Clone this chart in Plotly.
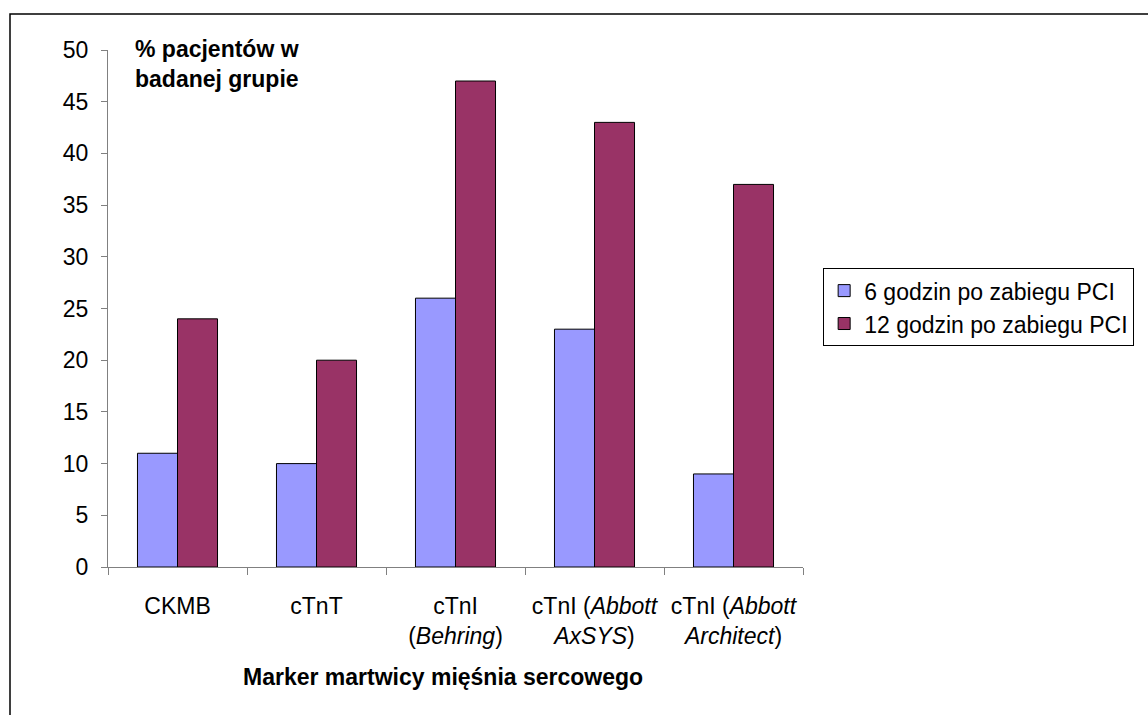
import plotly.graph_objects as go

categories = ["CKMB", "cTnT", "cTnI<br>(<i>Behring</i>)",
              "cTnI (<i>Abbott</i><br><i>AxSYS</i>)",
              "cTnI (<i>Abbott</i><br><i>Architect</i>)"]
series_6h = [11, 10, 26, 23, 9]
series_12h = [24, 20, 47, 43, 37]
name_6h = "6 godzin po zabiegu PCI"
name_12h = "12 godzin po zabiegu PCI"
y_ticks = [0, 5, 10, 15, 20, 25, 30, 35, 40, 45, 50]

FONT = "Liberation Sans, Arial, sans-serif"
FS = 23

fig = go.Figure()
fig.add_trace(go.Bar(x=categories, y=series_6h, name=name_6h,
                     marker=dict(color="#9999FF", line=dict(color="#000000", width=1))))
fig.add_trace(go.Bar(x=categories, y=series_12h, name=name_12h,
                     marker=dict(color="#993366", line=dict(color="#000000", width=1))))

fig.update_layout(
    width=1148, height=715,
    margin=dict(l=108, r=345, t=50, b=148),
    paper_bgcolor="white", plot_bgcolor="white",
    font=dict(family=FONT, size=FS, color="black"),
    barmode="group", bargap=0.424, bargroupgap=0,
    showlegend=True,
    legend=dict(x=1.029, y=0.578, xanchor="left", yanchor="top",
                bordercolor="#000000", borderwidth=1,
                font=dict(family=FONT, size=FS, color="black"),
                itemwidth=30, tracegroupgap=4),
)
fig.update_xaxes(
    type="category", showline=True, linecolor="#808080", linewidth=1,
    ticks="outside", tickson="boundaries", ticklen=7, tickcolor="#808080",
    showgrid=False, tickfont=dict(family=FONT, size=FS, color="black"),
    ticklabelstandoff=18,
)
fig.update_yaxes(
    range=[0, 50], tickvals=y_ticks, showline=True, linecolor="#808080", linewidth=1,
    ticks="outside", ticklen=6, tickcolor="#808080", showgrid=False, zeroline=False,
    tickfont=dict(family=FONT, size=FS, color="black"), ticklabelstandoff=8,
)

fig.add_annotation(text="<b>% pacjentów w<br>badanej grupie</b>", xref="paper", yref="paper",
                   x=0.036, y=1.031, xanchor="left", yanchor="top", align="left",
                   showarrow=False, font=dict(family=FONT, size=FS, color="black"))
fig.add_annotation(text="<b>Marker martwicy mięśnia sercowego</b>", xref="paper", yref="paper",
                   x=(443 - 108) / 695, y=(567 - 677) / 517, xanchor="center", yanchor="middle",
                   showarrow=False, font=dict(family=FONT, size=FS, color="black"))

fig.add_shape(type="rect", xref="paper", yref="paper",
              x0=(10 - 108) / 695, x1=1.7, y0=-0.6, y1=(567 - 14) / 517,
              line=dict(color="#000000", width=1.5), fillcolor="rgba(0,0,0,0)", layer="below")

fig.write_html("out.html")
